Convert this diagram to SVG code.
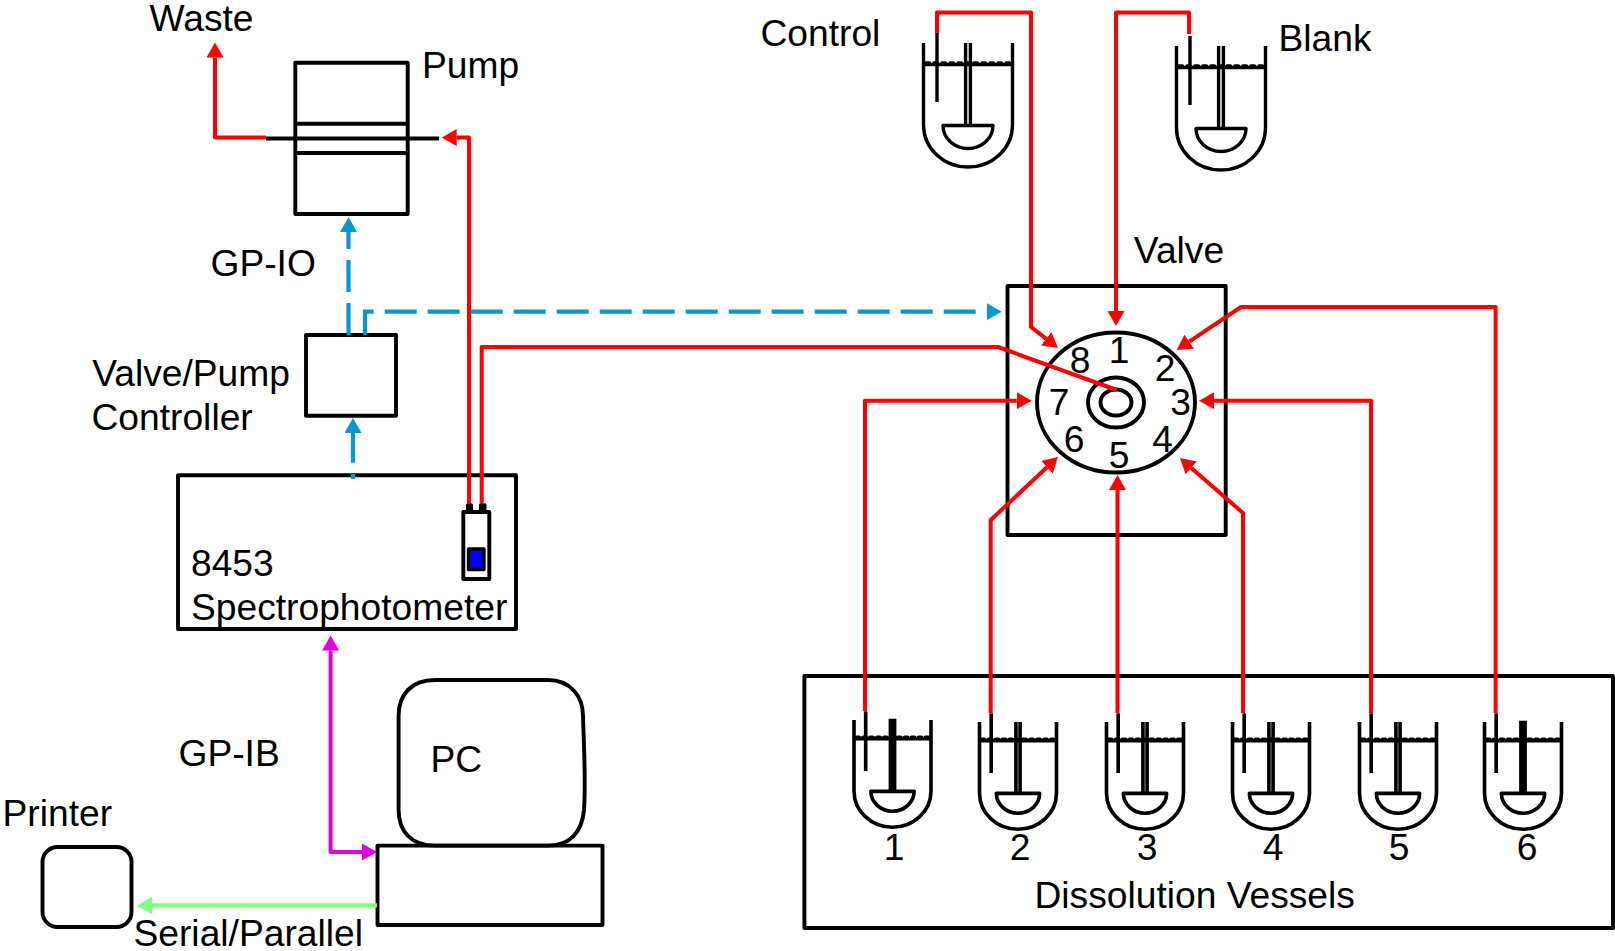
<svg xmlns="http://www.w3.org/2000/svg" xmlns:xlink="http://www.w3.org/1999/xlink" width="1615" height="951" viewBox="0 0 1615 951">
<style>
text{font-family:"Liberation Sans",Arial,sans-serif;font-size:37.2px;fill:#000}
.m{text-anchor:middle}
.b{fill:none;stroke:#000;stroke-width:3.9;stroke-linejoin:round}
.r{fill:none;stroke:#f00;stroke-width:4;stroke-linejoin:round}
.bl{fill:none;stroke:#0a96d2;stroke-width:4.2;stroke-dasharray:32 11}
.bs{fill:none;stroke:#0a9ad2;stroke-width:4.2}
.mg{fill:none;stroke:#e000e0;stroke-width:4;stroke-linejoin:round}
.gr{fill:none;stroke:#80ff80;stroke-width:4.2}
.v{fill:none;stroke:#000;stroke-linejoin:round}
</style>
<defs>
<marker id="ar" markerUnits="userSpaceOnUse" viewBox="0 -8.500 15 17" refX="0" refY="0" markerWidth="15" markerHeight="17" orient="auto-start-reverse"><path d="M0-8.500L15 0L0 8.500z" fill="#f00"/></marker>
<marker id="ab" markerUnits="userSpaceOnUse" viewBox="0 -8.500 15 17" refX="0" refY="0" markerWidth="15" markerHeight="17" orient="auto"><path d="M0-8.500L15 0L0 8.500z" fill="#0a96d2"/></marker>
<marker id="am" markerUnits="userSpaceOnUse" viewBox="0 -8.500 15 17" refX="0" refY="0" markerWidth="15" markerHeight="17" orient="auto-start-reverse"><path d="M0-8.500L15 0L0 8.500z" fill="#e000e0"/></marker>
<marker id="ag" markerUnits="userSpaceOnUse" viewBox="0 -8.500 15 17" refX="0" refY="0" markerWidth="15" markerHeight="17" orient="auto"><path d="M0-8.500L15 0L0 8.500z" fill="#80ff80"/></marker>
<g id="vessel">
<path class="v" d="M-44.500 0V82A44.500 42 0 0 0 44.500 82V0"/>
<path class="v" d="M-45.500 21.500H45.500"/>
<path class="v" d="M-42 20H44" stroke-dasharray="3.500 4.500" stroke-linecap="round"/>
<path class="v" d="M-31-10V59"/>
<path class="v" d="M-25 82.500H25A25 23 0 0 1-25 82.500Z"/>
</g>
<path id="dbl" class="v" d="M-2.400 0V82M2.400 0V82"/>
<path id="sol" fill="#000" d="M-4.500 -1.500H4.500V82H-4.500Z"/>
</defs>
<rect width="1615" height="951" fill="#fff"/>

<g id="pump">
<rect class="b" x="295.300" y="62.700" width="112.400" height="151.300"/>
<path class="b" d="M295 123.700H408M295 153H408"/>
<path class="b" d="M266 138.500H439"/>
<text x="422" y="78">Pump</text>
</g>
<text id="waste" x="149.500" y="31">Waste</text>
<text id="gpio" x="210.500" y="276">GP-IO</text>
<g id="controller">
<rect class="b" x="306" y="335" width="90" height="80.700"/>
<text x="92.200" y="386">Valve/Pump</text>
<text x="91.500" y="429.500">Controller</text>
</g>
<g id="spectrophotometer">
<rect class="b" x="178" y="475.300" width="338" height="153.700"/>
<text x="191" y="576">8453</text>
<text x="191" y="620">Spectrophotometer</text>
</g>
<g id="flowcell">
<rect class="b" x="463.300" y="512" width="26" height="67"/>
<rect fill="#000" x="466" y="503.300" width="7" height="9" rx="1.500"/>
<rect fill="#000" x="479" y="503.300" width="7.500" height="9" rx="1.500"/>
<rect x="468.500" y="549" width="15.500" height="20.500" fill="#00f" stroke="#000" stroke-width="3.400" stroke-linejoin="round"/>
</g>
<g id="pc">
<path class="b" d="M398.600 716C398.600 694 412 680 435 680H548C570 680 583 696 583 716C584 750 586 780 584 810C582 832 570 845.600 548 845.600H435C412 845.600 398.600 832 398.600 810Z"/>
<rect class="b" x="377.500" y="845.600" width="225" height="79.400"/>
<text x="430.500" y="771.500">PC</text>
</g>
<text id="gpib" x="178.500" y="766">GP-IB</text>
<g id="printer">
<rect class="b" x="42.500" y="847" width="89" height="80" rx="15"/>
<text x="2.500" y="826">Printer</text>
</g>
<text id="serial" x="133.500" y="946">Serial/Parallel</text>

<g id="valve">
<rect class="b" x="1007.500" y="286" width="218.200" height="249"/>
<ellipse class="b" cx="1116" cy="402.500" rx="79" ry="70"/>
<ellipse class="b" cx="1116" cy="402.500" rx="28" ry="25"/>
<ellipse class="b" cx="1116" cy="402.500" rx="15.500" ry="13"/>
<text x="1179" y="263" class="m">Valve</text>
<text class="m" x="1119" y="363">1</text>
<text class="m" x="1165" y="380.500">2</text>
<text class="m" x="1180.700" y="414.500">3</text>
<text class="m" x="1162.700" y="452">4</text>
<text class="m" x="1119" y="468">5</text>
<text class="m" x="1074" y="452">6</text>
<text class="m" x="1059" y="415">7</text>
<text class="m" x="1080" y="373">8</text>
</g>

<g id="control-vessel">
<g transform="translate(968 43)" stroke-width="3.400"><use href="#vessel"/><use href="#dbl"/></g>
<text x="760.500" y="45.500">Control</text>
</g>
<g id="blank-vessel">
<g transform="translate(1221 46)" stroke-width="3.400"><use href="#vessel"/><use href="#dbl"/></g>
<text x="1278.500" y="50.500">Blank</text>
</g>

<g id="dissolution-vessels">
<rect class="b" x="804.400" y="676" width="808.600" height="252"/>
<text x="1034.500" y="907.500">Dissolution Vessels</text>
</g>
<g id="vessel-1"><g transform="translate(892.500 720) scale(.865)" stroke-width="4.200"><use href="#vessel"/><use href="#sol"/></g><text class="m" x="894" y="860">1</text></g>
<g id="vessel-2"><g transform="translate(1018 722) scale(.865)" stroke-width="4.200"><use href="#vessel"/><use href="#dbl"/></g><text class="m" x="1020" y="860">2</text></g>
<g id="vessel-3"><g transform="translate(1145 722) scale(.865)" stroke-width="4.200"><use href="#vessel"/><use href="#dbl"/></g><text class="m" x="1147" y="860">3</text></g>
<g id="vessel-4"><g transform="translate(1271 722) scale(.865)" stroke-width="4.200"><use href="#vessel"/><use href="#dbl"/></g><text class="m" x="1273" y="860">4</text></g>
<g id="vessel-5"><g transform="translate(1398 722) scale(.865)" stroke-width="4.200"><use href="#vessel"/><use href="#dbl"/></g><text class="m" x="1399" y="860">5</text></g>
<g id="vessel-6"><g transform="translate(1523 722) scale(.865)" stroke-width="4.200"><use href="#vessel"/><use href="#sol"/></g><text class="m" x="1527" y="860">6</text></g>

<g id="connectors">
<path class="r" d="M266 137.600H215V57.500" marker-end="url(#ar)"/>
<path class="r" d="M469 503V137.600H456.700" marker-end="url(#ar)"/>
<path class="r" d="M481.700 503V347H998L1116.700 390"/>
<path class="r" d="M937 33V12.500H1031V327L1046.200 338.800" marker-end="url(#ar)"/>
<path class="r" d="M1189 34V12.500H1116V311" marker-end="url(#ar)"/>
<path class="r" d="M1495.600 713V307H1241L1189.200 341.700" marker-end="url(#ar)"/>
<path class="r" d="M1371 713V400.700H1214" marker-end="url(#ar)"/>
<path class="r" d="M1243 713V513L1191.300 467.900" marker-end="url(#ar)"/>
<path class="r" d="M1117.500 713V490" marker-end="url(#ar)"/>
<path class="r" d="M990.700 713V520L1047 467.200" marker-end="url(#ar)"/>
<path class="r" d="M865 711V400.700H1016.700" marker-end="url(#ar)"/>
<path class="bl" d="M348.500 335V232" marker-end="url(#ab)"/>
<path class="bl" d="M365 335V311.700H986.700" marker-end="url(#ab)"/>
<path class="bs" d="M353 462.700V433" marker-end="url(#ab)"/>
<path class="bs" d="M353 474V479"/>
<path class="mg" d="M330.600 650.500V852H362" marker-start="url(#am)" marker-end="url(#am)"/>
<path class="gr" d="M377 905.400H152" marker-end="url(#ag)"/>
</g>
</svg>
